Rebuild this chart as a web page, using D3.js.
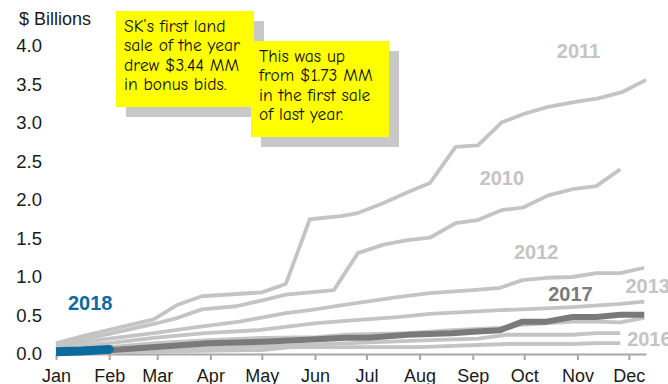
<!DOCTYPE html>
<html>
<head>
<meta charset="utf-8">
<script src="https://cdn.jsdelivr.net/npm/d3@7"></script>
<style>
  html, body { margin: 0; padding: 0; background: #fff; }
  svg { display: block; }
</style>
</head>
<body>
<svg id="chart" width="668" height="384"></svg>
<script>
// Cumulative lease-sale bonus bids by year, as [day of year, $ billions]
const y2010 = [[0,0.12],[31,0.26],[57,0.39],[71,0.47],[85,0.58],[105,0.62],[121,0.70],[134,0.77],[162,0.83],[176,1.31],[191,1.42],[205,1.48],[218,1.51],[233,1.70],[246,1.74],[260,1.87],[272,1.90],[287,2.06],[301,2.14],[315,2.18],[329,2.40]];
const y2011 = [[0,0.14],[15,0.23],[57,0.45],[71,0.64],[85,0.75],[120,0.80],[134,0.91],[148,1.75],[166,1.79],[176,1.83],[191,1.96],[205,2.10],[218,2.22],[233,2.69],[246,2.71],[260,3.01],[273,3.12],[287,3.21],[302,3.27],[316,3.32],[330,3.40],[344,3.56]];
const y2012 = [[0,0.11],[31,0.20],[57,0.27],[82,0.35],[107,0.42],[134,0.53],[148,0.57],[169,0.64],[199,0.74],[218,0.79],[243,0.83],[259,0.86],[272,0.96],[286,0.99],[301,1.00],[315,1.05],[329,1.05],[343,1.12]];
const y2013 = [[0,0.08],[31,0.14],[57,0.21],[87,0.27],[118,0.31],[152,0.40],[169,0.43],[199,0.48],[218,0.52],[259,0.57],[272,0.58],[301,0.61],[329,0.65],[343,0.68]];
const y2014 = [[0,0.05],[31,0.09],[58,0.14],[89,0.18],[121,0.21],[152,0.22],[169,0.25],[205,0.27],[231,0.31],[259,0.34],[272,0.38],[301,0.42],[315,0.42],[329,0.41],[343,0.47]];
const y2015 = [[0,0.02],[31,0.04],[58,0.06],[121,0.10],[171,0.14],[218,0.18],[246,0.20],[263,0.25],[301,0.25],[315,0.27],[329,0.27]];
const y2016 = [[0,0.01],[84,0.04],[120,0.05],[137,0.09],[211,0.09],[263,0.13],[301,0.13],[315,0.14],[329,0.14]];
const y2017 = [[0,0.03],[31,0.05],[58,0.09],[89,0.14],[121,0.16],[152,0.19],[169,0.21],[182,0.21],[205,0.25],[231,0.27],[243,0.29],[259,0.31],[272,0.42],[286,0.42],[301,0.48],[315,0.48],[329,0.51],[343,0.51]];
const y2018 = [[0,0.03],[15,0.04],[31,0.06]];

const yTicks = [0, 0.5, 1, 1.5, 2, 2.5, 3, 3.5, 4];
const yUnit = "$ Billions";

const note1 = ["SK\u2019s first land", "sale of the year", "drew $3.44 MM", "in bonus bids."];
const note2 = ["This was up", "from $1.73 MM", "in the first sale", "of last year."];

const svg = d3.select("#chart");
const sans = "Arial, 'Liberation Sans', sans-serif";
const handFont = "'Comic Sans MS', 'Comic Neue', 'Open Sans', sans-serif";

const start = new Date(2017, 0, 1);
const day = d => d3.timeDay.offset(start, d);
const x = d3.scaleTime().domain([start, new Date(2017, 11, 11)]).range([56, 646]);
const y = d3.scaleLinear().domain([0, 4]).range([354, 46]);

// x axis
const xAxis = svg.append("g")
  .attr("transform", `translate(0,${y(0)})`)
  .call(d3.axisBottom(x)
    .ticks(d3.timeMonth.every(1))
    .tickFormat(d3.timeFormat("%b"))
    .tickSize(6).tickSizeOuter(0).tickPadding(9));
xAxis.select(".domain").attr("stroke", "#a6a6a6").attr("stroke-width", 2);
xAxis.selectAll(".tick line").attr("stroke", "#a6a6a6").attr("stroke-width", 2);
xAxis.selectAll(".tick text")
  .attr("font-family", sans).attr("font-size", 18).attr("fill", "#1a1a1a");

// y axis (labels only)
const yAxis = svg.append("g")
  .attr("transform", "translate(48,0)")
  .call(d3.axisLeft(y).tickValues(yTicks).tickFormat(d3.format(".1f")).tickSize(0).tickPadding(6));
yAxis.select(".domain").remove();
yAxis.selectAll(".tick text")
  .attr("font-family", sans).attr("font-size", 18.5).attr("fill", "#1a1a1a");

svg.append("text").attr("x", 19).attr("y", 25)
  .attr("font-family", sans).attr("font-size", 18).attr("fill", "#1a1a1a")
  .text(yUnit);

const line = d3.line().x(d => x(day(d[0]))).y(d => y(d[1]));

const light = "#c4c4c4";
const blue = "#0b6a9e";
const lines = svg.append("g").attr("fill", "none").attr("stroke-linejoin", "round");
[y2016, y2015, y2014, y2013, y2012, y2010, y2011].forEach(s => {
  lines.append("path").attr("d", line(s)).attr("stroke", light).attr("stroke-width", 3.8);
});
lines.append("path").attr("d", line(y2017))
  .attr("stroke", "#7a7a7a").attr("stroke-width", 6);
lines.append("path").attr("d", line(y2018))
  .attr("stroke", blue).attr("stroke-width", 9);
// rounded end of the current year's line
const last2018 = y2018[y2018.length - 1];
svg.append("circle")
  .attr("cx", x(day(last2018[0]))).attr("cy", y(last2018[1])).attr("r", 4.5)
  .attr("fill", blue);

// year labels
const yearLabels = [
  { t: "2011", d: 292, v: 3.85, c: light },
  { t: "2010", d: 247, v: 2.20, c: light },
  { t: "2012", d: 267, v: 1.23, c: light },
  { t: "2013", d: 332, v: 0.79, c: light },
  { t: "2017", d: 287, v: 0.69, c: "#7a7a7a" },
  { t: "2016", d: 333, v: 0.10, c: light },
  { t: "2018", d: 7,   v: 0.57, c: blue }
];
svg.append("g").selectAll("text").data(yearLabels).join("text")
  .attr("x", d => x(day(d.d)))
  .attr("y", d => y(d.v))
  .attr("font-family", sans).attr("font-weight", "bold").attr("font-size", 20)
  .attr("fill", d => d.c)
  .text(d => d.t);

// callout notes with drop shadows
function note(lines, bx, by, bw, bh) {
  const g = svg.append("g");
  g.append("rect").attr("x", bx + 10).attr("y", by + 10).attr("width", bw).attr("height", bh).attr("fill", "#c8c8c8");
  g.append("rect").attr("x", bx).attr("y", by).attr("width", bw).attr("height", bh).attr("fill", "#ffff00");
  g.append("g").selectAll("text").data(lines).join("text")
    .attr("x", bx + 8).attr("y", (d, i) => by + 21 + i * 19.3)
    .attr("font-family", handFont).attr("font-size", 17.5).attr("fill", "#111")
    .attr("textLength", null)
    .text(d => d);
}
note(note1, 116, 11, 138, 96);
note(note2, 251, 41, 138, 96);
</script>
</body>
</html>
